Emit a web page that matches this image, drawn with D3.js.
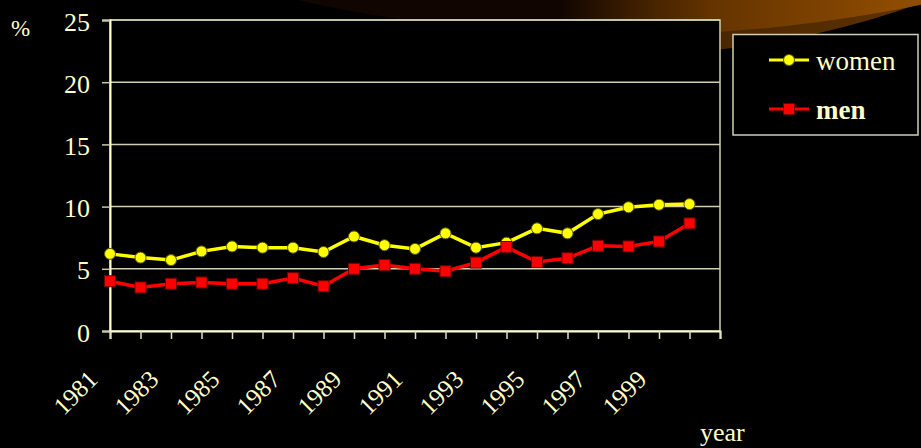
<!DOCTYPE html>
<html>
<head>
<meta charset="utf-8">
<script src="https://cdn.jsdelivr.net/npm/d3@7"></script>
<style>
  html, body { margin: 0; padding: 0; background: #000; }
  svg { display: block; }
</style>
</head>
<body>
<div id="chart-container"></div>
<script>
// data
const years = [1981, 1982, 1983, 1984, 1985, 1986, 1987, 1988, 1989, 1990,
               1991, 1992, 1993, 1994, 1995, 1996, 1997, 1998, 1999, 2000];
const women = [6.2, 5.9, 5.7, 6.4, 6.8, 6.7, 6.7, 6.35, 7.6, 6.9,
               6.6, 7.85, 6.7, 7.1, 8.25, 7.85, 9.4, 9.95, 10.15, 10.2];
const men = [4.0, 3.5, 3.8, 3.9, 3.8, 3.8, 4.25, 3.6, 5.0, 5.3,
             5.0, 4.8, 5.5, 6.75, 5.55, 5.85, 6.85, 6.8, 7.2, 8.65];
const yTicks = [0, 5, 10, 15, 20, 25];
const xLabels = [1981, 1983, 1985, 1987, 1989, 1991, 1993, 1995, 1997, 1999];
const seriesNames = ["women", "men"];

const W = 921, H = 448;
const margin = { top: 20, right: 201, bottom: 117, left: 110 };
const width = W - margin.left - margin.right;
const height = H - margin.top - margin.bottom;
const cream = "#ffffcc";
const serif = "'Liberation Serif', 'Times New Roman', serif";

const svg = d3.select("#chart-container")
    .append("svg")
    .attr("width", W)
    .attr("height", H);

svg.append("rect").attr("width", W).attr("height", H).attr("fill", "#000");

// decorative swoosh in the top-right corner
const defs = svg.append("defs");
function grad(id, stops) {
    const gr = defs.append("linearGradient")
        .attr("id", id)
        .attr("gradientUnits", "userSpaceOnUse")
        .attr("x1", 560).attr("y1", 0).attr("x2", 900).attr("y2", 0);
    stops.forEach(s => gr.append("stop").attr("offset", s[0]).attr("stop-color", s[1]));
}
grad("outerGrad", [[0, "#000000"], [0.2, "#2a1400"], [0.5, "#4a2700"], [1, "#5e3100"]]);
grad("innerGrad", [[0, "#100500"], [0.2, "#3a1c00"], [0.45, "#653400"], [1, "#8e4c00"]]);

svg.append("ellipse")
    .attr("cx", 620).attr("cy", -400).attr("rx", 649).attr("ry", 455)
    .attr("fill", "url(#outerGrad)");
svg.append("ellipse")
    .attr("cx", 620).attr("cy", -400).attr("rx", 820).attr("ry", 435)
    .attr("fill", "url(#innerGrad)");

const g = svg.append("g")
    .attr("transform", `translate(${margin.left},${margin.top})`);

const xScale = d3.scaleLinear()
    .domain([1981, 2001])
    .range([0, width]);

const yScale = d3.scaleLinear()
    .domain([0, 25])
    .range([height, 0]);

// plot area
g.append("rect")
    .attr("width", width)
    .attr("height", height)
    .attr("fill", "#000")
    .attr("stroke", "#d0d0b0")
    .attr("stroke-width", 1.5);

// gridlines
g.append("g")
    .selectAll("line")
    .data(yTicks.filter(d => d > 0))
    .enter()
    .append("line")
    .attr("x1", 0)
    .attr("x2", width)
    .attr("y1", d => yScale(d))
    .attr("y2", d => yScale(d))
    .attr("stroke", "#d0d0b0")
    .attr("stroke-width", 1.5);

// y axis
const yAxis = g.append("g")
    .call(d3.axisLeft(yScale).tickValues(yTicks).tickSize(8).tickPadding(12));
yAxis.select(".domain").attr("stroke", cream).attr("stroke-width", 2);
yAxis.selectAll(".tick line").attr("stroke", "#c8c8a8").attr("stroke-width", 1.5);
yAxis.selectAll(".tick text")
    .attr("fill", cream)
    .attr("dy", null)
    .attr("y", 10)
    .style("font-size", "26px")
    .style("font-family", serif);

// x axis
const xAxis = g.append("g")
    .attr("transform", `translate(0,${height})`)
    .call(d3.axisBottom(xScale).ticks(20).tickSize(8).tickFormat(""));
xAxis.select(".domain").attr("stroke", cream).attr("stroke-width", 2);
xAxis.selectAll(".tick line").attr("stroke", "#e0e0c0").attr("stroke-width", 1.5);

g.append("g")
    .selectAll("text")
    .data(xLabels)
    .enter()
    .append("text")
    .attr("transform", d => `translate(${xScale(d) - 11},${height + 50}) rotate(-45)`)
    .attr("text-anchor", "end")
    .attr("fill", cream)
    .style("font-family", serif)
    .style("font-size", "25px")
    .text(d => d);

// axis titles
svg.append("text")
    .attr("x", 11)
    .attr("y", 36)
    .attr("fill", cream)
    .style("font-family", serif)
    .style("font-size", "23px")
    .text("%");

svg.append("text")
    .attr("x", 700)
    .attr("y", 441)
    .attr("fill", cream)
    .style("font-family", serif)
    .style("font-size", "26px")
    .text("year");

// series
const series = [
    { name: seriesNames[0], values: women, color: "#ffff00", edge: "#5a5a00", shape: "circle" },
    { name: seriesNames[1], values: men, color: "#ff0000", edge: "#700000", shape: "square" }
];

const line = d3.line()
    .x((d, i) => xScale(years[i]))
    .y(d => yScale(d));

series.forEach(s => {
    g.append("path")
        .datum(s.values)
        .attr("fill", "none")
        .attr("stroke", s.color)
        .attr("stroke-width", 3.5)
        .attr("d", line);

    const pts = g.append("g")
        .selectAll(".pt")
        .data(s.values)
        .enter();
    if (s.shape === "circle") {
        pts.append("circle")
            .attr("cx", (d, i) => xScale(years[i]))
            .attr("cy", d => yScale(d))
            .attr("r", 5.5)
            .attr("fill", s.color)
            .attr("stroke", s.edge)
            .attr("stroke-width", 1);
    } else {
        pts.append("rect")
            .attr("x", (d, i) => xScale(years[i]) - 5.5)
            .attr("y", d => yScale(d) - 5.5)
            .attr("width", 11)
            .attr("height", 11)
            .attr("fill", s.color)
            .attr("stroke", s.edge)
            .attr("stroke-width", 1);
    }
});

// legend
const legend = svg.append("g");
legend.append("rect")
    .attr("x", 733)
    .attr("y", 34.5)
    .attr("width", 185)
    .attr("height", 100.5)
    .attr("fill", "#000")
    .attr("stroke", "#d0d0b0")
    .attr("stroke-width", 1.5);

const legendRows = [60, 109];
series.forEach((s, i) => {
    const y = legendRows[i];
    legend.append("line")
        .attr("x1", 769).attr("x2", 809)
        .attr("y1", y).attr("y2", y)
        .attr("stroke", s.color)
        .attr("stroke-width", 3);
    if (s.shape === "circle") {
        legend.append("circle")
            .attr("cx", 789).attr("cy", y).attr("r", 5.5)
            .attr("fill", s.color).attr("stroke", s.edge).attr("stroke-width", 1);
    } else {
        legend.append("rect")
            .attr("x", 783.5).attr("y", y - 5.5).attr("width", 11).attr("height", 11)
            .attr("fill", s.color).attr("stroke", s.edge).attr("stroke-width", 1);
    }
    legend.append("text")
        .attr("x", 816)
        .attr("y", y + 10)
        .attr("fill", cream)
        .style("font-family", serif)
        .style("font-size", "27px")
        .style("font-weight", i === 1 ? "bold" : "normal")
        .text(s.name);
});
</script>
</body>
</html>
